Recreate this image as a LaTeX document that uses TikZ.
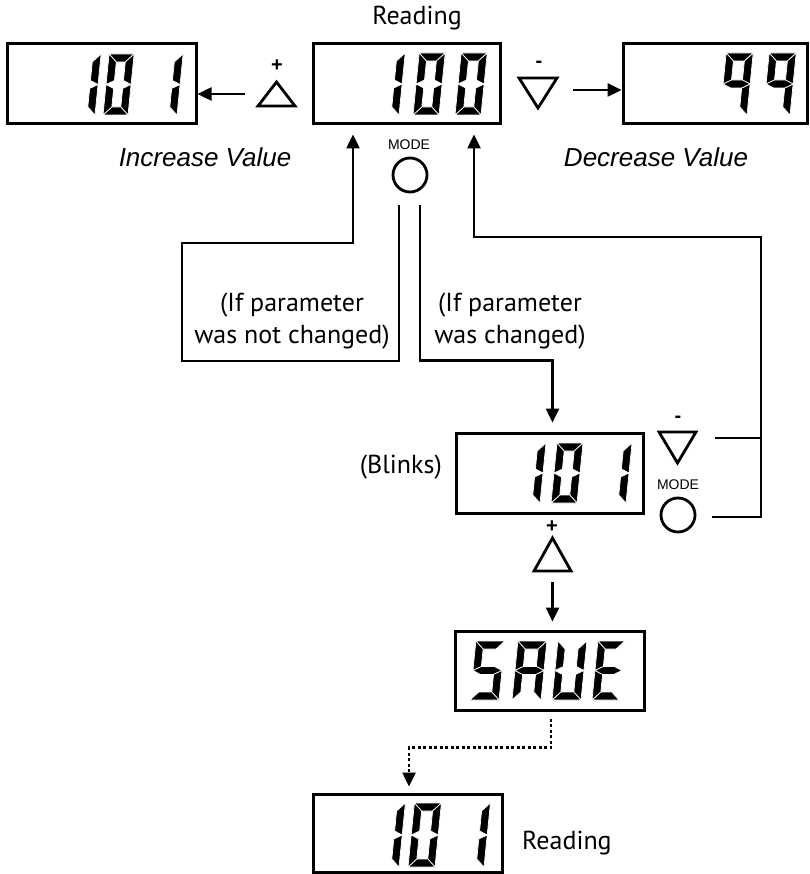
\documentclass[tikz,border=0pt]{standalone}
\usepackage{fontspec}
\setmainfont{PT Sans}
\newfontfamily\helv{Liberation Sans}
\usetikzlibrary{arrows.meta,calc}

% seven-segment digit: x0, y0 (bottom-left), width, height, thickness, segments
\newcommand\sevdigit[6]{%
  \begin{scope}[shift={(#1,#2)},xslant=0.1]
    \def\sgW{#3}\def\sgH{#4}\def\sgT{#5}%
    \pgfmathsetmacro\sgM{#4/2}%
    #6
  \end{scope}}
\newcommand\sA{\filldraw[seg] (0,-\sgH) -- (\sgW,-\sgH) -- (\sgW-\sgT,-\sgH+\sgT) -- (\sgT,-\sgH+\sgT) -- cycle;}
\newcommand\sB{\filldraw[seg] (\sgW,-\sgH) -- (\sgW,-\sgM) -- (\sgW-\sgT,-\sgM-\sgT/2) -- (\sgW-\sgT,-\sgH+\sgT) -- cycle;}
\newcommand\sC{\filldraw[seg] (\sgW,-\sgM) -- (\sgW,0) -- (\sgW-\sgT,-\sgT) -- (\sgW-\sgT,-\sgM+\sgT/2) -- cycle;}
\newcommand\sD{\filldraw[seg] (0,0) -- (\sgW,0) -- (\sgW-\sgT,-\sgT) -- (\sgT,-\sgT) -- cycle;}
\newcommand\sE{\filldraw[seg] (0,0) -- (0,-\sgM) -- (\sgT,-\sgM+\sgT/2) -- (\sgT,-\sgT) -- cycle;}
\newcommand\sF{\filldraw[seg] (0,-\sgH) -- (0,-\sgM) -- (\sgT,-\sgM-\sgT/2) -- (\sgT,-\sgH+\sgT) -- cycle;}
\newcommand\sG{\filldraw[seg] (0,-\sgM) -- (\sgT,-\sgM-\sgT/2) -- (\sgW-\sgT,-\sgM-\sgT/2) -- (\sgW,-\sgM) -- (\sgW-\sgT,-\sgM+\sgT/2) -- (\sgT,-\sgM+\sgT/2) -- cycle;}
\newcommand\dOne{\sB\sC}
\newcommand\dZero{\sA\sB\sC\sD\sE\sF}
\newcommand\dNine{\sA\sB\sC\sF\sG}

\begin{document}
\begin{tikzpicture}[x=1pt,y=-1pt,
  seg/.style={fill=black,draw=white,line width=0.7pt},
  box/.style={draw,line width=3pt,inner sep=0pt},
  conn/.style={line width=2.5pt},
  arr/.style={conn,-{Triangle[length=14pt,width=13pt]}},
  dotarr/.style={arr,dash pattern=on 3pt off 2.5pt},
  btn/.style={line width=2.8pt,line join=miter},
  btnnode/.style={inner sep=0pt,outer sep=0pt},
  circbtn/.style={draw,circle,line width=2.8pt,minimum size=34pt,inner sep=0pt},
  lbl/.style={font=\fontsize{26}{32}\selectfont,inner sep=0pt,align=center},
  ital/.style={font=\helv\itshape\fontsize{26}{31}\selectfont,inner sep=0pt},
  modelbl/.style={font=\helv\fontsize{14}{16}\selectfont,inner sep=0pt},
  sign/.style={font=\helv\bfseries\fontsize{20}{20}\selectfont,inner sep=0pt}]
\useasboundingbox (0,0) rectangle (809,874);

% display boxes
\node[box,minimum width=189pt,minimum height=80pt] (tl) at (101.5,84) {};
\node[box,minimum width=187pt,minimum height=80pt] (tm) at (406.5,84) {};
\node[box,minimum width=184pt,minimum height=80pt] (tr) at (715,84) {};
\node[box,minimum width=187pt,minimum height=80pt] (blink) at (549.5,473) {};
\node[box,minimum width=189pt,minimum height=79pt] (save) at (549.5,670.5) {};
\node[box,minimum width=189pt,minimum height=78pt] (bot) at (407.5,833) {};

% digits
\sevdigit{70}{115}{25}{61}{8}{\dOne}
\sevdigit{103}{115}{25}{61}{8}{\dZero}
\sevdigit{152}{115}{25}{61}{8}{\dOne}

\sevdigit{374}{115}{25}{62}{8}{\dOne}
\sevdigit{413}{115}{26}{62}{8}{\dZero}
\sevdigit{455}{115}{26}{62}{8}{\dZero}

\sevdigit{720}{115}{27}{62}{8}{\dNine}
\sevdigit{763}{115}{27}{62}{8}{\dNine}

\sevdigit{515}{503}{25}{60}{8}{\dOne}
\sevdigit{551}{503}{26}{60}{8}{\dZero}
\sevdigit{601}{503}{25}{60}{8}{\dOne}

\sevdigit{470}{700}{29}{59}{8}{\sA\sF\sG\sC\sD}
\sevdigit{512}{700}{29}{59}{8}{\sA\sB\sC\sE\sF\sG}
\sevdigit{552}{700}{29}{59}{8}{\sB\sC\sD\sE\sF}
\sevdigit{592}{700}{27}{59}{8}{\sA\sD\sE\sF\sG}

\sevdigit{374}{867}{25}{64}{8}{\dOne}
\sevdigit{408}{867}{27}{64}{8}{\dZero}
\sevdigit{459}{867}{25}{64}{8}{\dOne}

% buttons
\node[btnnode,minimum width=37pt,minimum height=24pt] (ptri1) at (276.5,94) {};
\draw[btn] (ptri1.south west) -- (ptri1.south east) -- (ptri1.north) -- cycle;
\node[sign] (plus1) at (277,66) {+};

\node[btnnode,minimum width=38pt,minimum height=30pt] (mtri1) at (538,93) {};
\draw[btn] (mtri1.north west) -- (mtri1.north east) -- (mtri1.south) -- cycle;
\node[sign] (minus1) at (539,64) {-};

\node[modelbl] (model1) at (409,145) {MODE};
\node[circbtn] (mode1) at (410,175) {};

\node[btnnode,minimum width=37pt,minimum height=31pt] (mtri2) at (677.5,447.5) {};
\draw[btn] (mtri2.north west) -- (mtri2.north east) -- (mtri2.south) -- cycle;
\node[sign] (minus2) at (678,419) {-};
\node[modelbl] (model2) at (678,485) {MODE};
\node[circbtn] (mode2) at (678,515) {};

\node[btnnode,minimum width=37pt,minimum height=33pt] (ptri2) at (552.5,554.5) {};
\draw[btn] (ptri2.south west) -- (ptri2.south east) -- (ptri2.north) -- cycle;
\node[sign] (plus2) at (552,527) {+};

% labels
\node[lbl] (rd1) at (417,18) {Reading};
\node[lbl,anchor=west] (rd2) at (522,843) {Reading};
\node[ital,anchor=base] (inc) at (205,167) {Increase Value};
\node[ital,anchor=base] (dec) at (656,167) {Decrease Value};
\node[lbl] (notch) at (292,321) {(If parameter\\was not changed)};
\node[lbl] (ch) at (510,321) {(If parameter\\was changed)};
\node[lbl,anchor=east] (blk) at (442,467) {(Blinks)};

% connectors
\coordinate (p1s) at ($(ptri1.west)+(-13,0)$);
\draw[arr] (p1s) -- (p1s -| tl.east);
\coordinate (m1s) at ($(mtri1.east)+(16,-3)$);
\draw[arr] (m1s) -- (m1s -| tr.west);

\coordinate (lbend1) at (182,361);
\coordinate (lbend2) at (353,243);
\draw[arr] ($(mode1.south)+(-11,12)$) |- (lbend1) |- (lbend2) -- ($(tm.south)+(-53.5,9)$);

\draw[arr] ($(mode1.south)+(10,12)$) |- ($(blink.north)+(3,-71)$) -- ($(blink.north)+(3,-9)$);

\coordinate (rtop) at (761,237);
\coordinate (rj1) at (761,438);
\draw[conn] ($(mtri2.east)+(19,-9.5)$) -- (rj1);
\draw[arr] ($(mode2.east)+(16,2)$) -| (rtop) -| ($(tm.south)+(67.5,9)$);

\draw[arr] ($(ptri2.south)+(0,11)$) -- ($(save.north)+(3,-8)$);

\draw[dotarr] ($(save.south)+(1.5,7)$) -- ++(0,29) -| ($(bot.north)+(1.5,-6)$);
\end{tikzpicture}
\end{document}
